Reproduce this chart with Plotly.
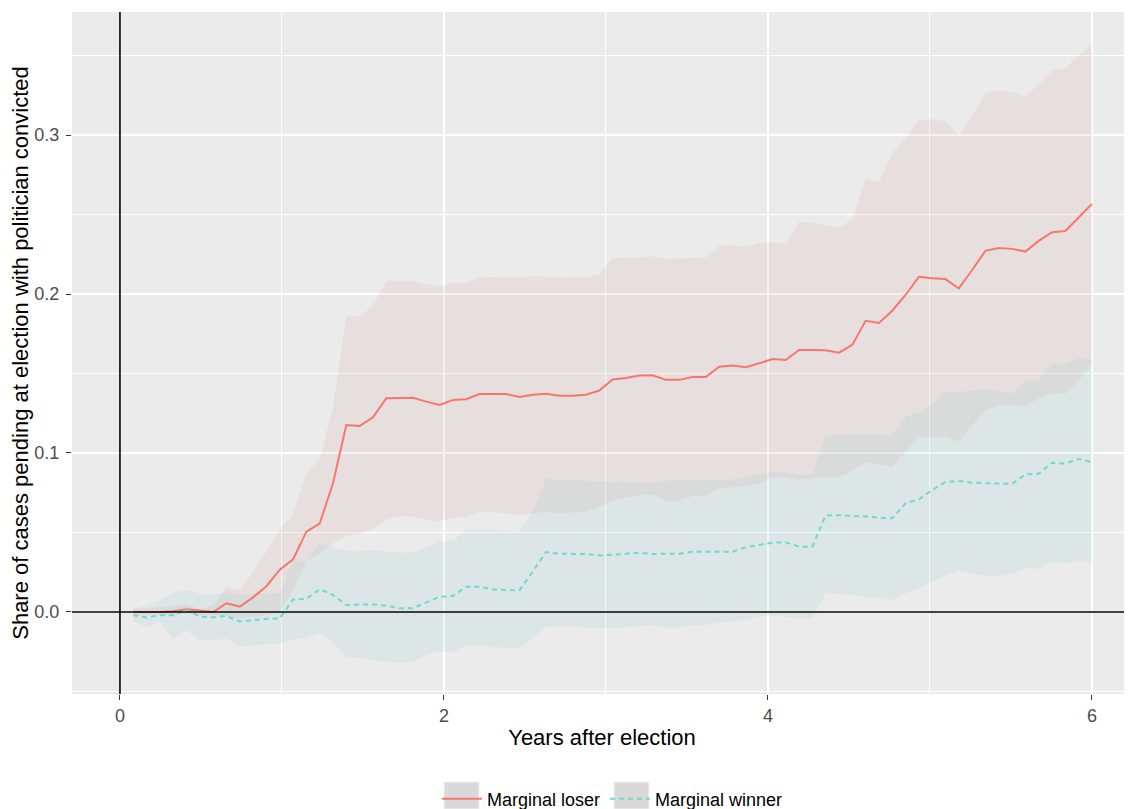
import plotly.graph_objects as go

# days after election (30-day steps), converted to years
days = [30, 60, 90, 120, 150, 180, 210, 240, 270, 300, 330, 360,
        390, 420, 450, 480, 510, 540, 570, 600, 630, 660, 690, 720,
        750, 780, 810, 840, 870, 900, 930, 960, 990, 1020, 1050, 1080,
        1110, 1140, 1170, 1200, 1230, 1260, 1290, 1320, 1350, 1380, 1410, 1440,
        1470, 1500, 1530, 1560, 1590, 1620, 1650, 1680, 1710, 1740, 1770, 1800,
        1830, 1860, 1890, 1920, 1950, 1980, 2010, 2040, 2070, 2100, 2130, 2160, 2190]
years = [d / 365 for d in days]

loser = [0.0, 0.0, 0.0, 0.0005, 0.0017, 0.001, 0.0, 0.0055, 0.0034, 0.0092, 0.0162, 0.0266,
         0.0331, 0.0505, 0.0556, 0.081, 0.1176, 0.117, 0.1224, 0.1344, 0.1346, 0.1348, 0.1323, 0.1302,
         0.1333, 0.1338, 0.1371, 0.1371, 0.1371, 0.1352, 0.1367, 0.1373, 0.136, 0.136, 0.1367, 0.1393,
         0.1463, 0.1472, 0.1487, 0.1489, 0.146, 0.146, 0.1478, 0.1478, 0.1543, 0.155, 0.154, 0.1564,
         0.1591, 0.1585, 0.1648, 0.1648, 0.1646, 0.1631, 0.168, 0.1832, 0.1818, 0.1895, 0.1994, 0.2109,
         0.2099, 0.2094, 0.2035, 0.2151, 0.2272, 0.229, 0.2284, 0.2267, 0.2334, 0.2389, 0.2396, 0.2481, 0.2567]
loser_lo = [-0.002, -0.002, -0.002, -0.002, -0.001, -0.002, -0.002, -0.003, -0.004, -0.003, -0.002, 0.0,
            0.014, 0.032, 0.037, 0.043, 0.048, 0.0495, 0.052, 0.058, 0.06, 0.06, 0.058, 0.057,
            0.059, 0.06, 0.063, 0.063, 0.062, 0.061, 0.062, 0.063, 0.062, 0.0625, 0.063, 0.066,
            0.07, 0.072, 0.0736, 0.0737, 0.07, 0.07, 0.073, 0.073, 0.078, 0.0783, 0.079, 0.081,
            0.0847, 0.0847, 0.0834, 0.084, 0.0851, 0.0847, 0.0889, 0.0939, 0.093, 0.091, 0.1008, 0.1103,
            0.11, 0.1104, 0.1072, 0.1172, 0.127, 0.1298, 0.1305, 0.1291, 0.1346, 0.1374, 0.1374, 0.1453, 0.1568]
loser_hi = [0.002, 0.002, 0.003, 0.004, 0.005, 0.0015, 0.004, 0.016, 0.0138, 0.025, 0.038, 0.052,
            0.061, 0.087, 0.096, 0.129, 0.186, 0.1858, 0.1927, 0.2084, 0.2084, 0.2084, 0.2061, 0.2046,
            0.2071, 0.2071, 0.2105, 0.2107, 0.2109, 0.2105, 0.211, 0.211, 0.2102, 0.2105, 0.2105, 0.2124,
            0.2226, 0.2226, 0.2233, 0.2237, 0.2222, 0.2224, 0.2226, 0.2229, 0.2302, 0.2308, 0.2298, 0.2322,
            0.2327, 0.2317, 0.2455, 0.2449, 0.2434, 0.2417, 0.2472, 0.2723, 0.2706, 0.2885, 0.2979, 0.3095,
            0.31, 0.3085, 0.2997, 0.3123, 0.3265, 0.3283, 0.3267, 0.3242, 0.3318, 0.3404, 0.342, 0.35, 0.357]

winner = [-0.002, -0.0035, -0.002, -0.002, 0.0015, -0.003, -0.0034, -0.0025, -0.006, -0.005, -0.0044, -0.004,
          0.0078, 0.0082, 0.0144, 0.0107, 0.0044, 0.0047, 0.0047, 0.004, 0.0023, 0.0023, 0.0061, 0.0096,
          0.01, 0.0159, 0.0159, 0.0143, 0.0138, 0.0136, 0.0254, 0.0377, 0.0366, 0.0366, 0.0365, 0.0355,
          0.036, 0.0365, 0.0372, 0.0365, 0.0365, 0.0367, 0.0379, 0.0379, 0.0379, 0.0379, 0.0407, 0.0421,
          0.0436, 0.0438, 0.0411, 0.0411, 0.0608, 0.0608, 0.0606, 0.06, 0.0593, 0.0589, 0.0683, 0.0709,
          0.0767, 0.0818, 0.0824, 0.0813, 0.081, 0.081, 0.0806, 0.0865, 0.087, 0.0939, 0.0934, 0.0962, 0.0943]
winner_lo = [-0.006, -0.0096, -0.006, -0.0172, -0.0113, -0.018, -0.018, -0.0166, -0.0222, -0.021, -0.0203, -0.02,
             -0.0172, -0.016, -0.013, -0.0195, -0.0285, -0.029, -0.0298, -0.0312, -0.0323, -0.0312, -0.027, -0.025,
             -0.025, -0.0214, -0.0208, -0.0222, -0.0222, -0.0229, -0.0166, -0.0095, -0.009, -0.0093, -0.0096, -0.0103,
             -0.0103, -0.0095, -0.0088, -0.0082, -0.0096, -0.0096, -0.0082, -0.0082, -0.0067, -0.006, -0.005, -0.003,
             -0.002, -0.003, -0.004, -0.004, 0.0117, 0.0117, 0.0107, 0.0092, 0.0092, 0.0075, 0.0117, 0.0149,
             0.019, 0.0228, 0.0264, 0.0237, 0.023, 0.023, 0.0235, 0.0276, 0.0272, 0.0321, 0.0303, 0.0326, 0.0303]
winner_hi = [0.002, 0.004, 0.0075, 0.0122, 0.0138, 0.0113, 0.0113, 0.0122, 0.011, 0.0113, 0.012, 0.012,
             0.0327, 0.0317, 0.0432, 0.041, 0.0385, 0.038, 0.0388, 0.038, 0.0373, 0.0373, 0.041, 0.0442,
             0.0446, 0.052, 0.052, 0.0516, 0.051, 0.0505, 0.063, 0.084, 0.083, 0.0828, 0.0826, 0.082,
             0.082, 0.0818, 0.0815, 0.0813, 0.0826, 0.0826, 0.083, 0.083, 0.083, 0.0834, 0.0852, 0.0868,
             0.0883, 0.0876, 0.0862, 0.0866, 0.1113, 0.1113, 0.1117, 0.112, 0.1113, 0.1113, 0.1229, 0.1254,
             0.1303, 0.1388, 0.1385, 0.1392, 0.1396, 0.1392, 0.1373, 0.1458, 0.1465, 0.1561, 0.1561, 0.1597, 0.1584]

x_ticks = [0, 2, 4, 6]
y_ticks = [0.0, 0.1, 0.2, 0.3]
y_tick_text = ["0.0", "0.1", "0.2", "0.3"]

RED = "#F8766D"
TEAL = "#6DDACB"
FONT = "Liberation Sans, Arial, sans-serif"

# figure sized to fit inside the window next to the page's 8px body margin
W, H = 1124, 801
ML, MR, MT, MB = 64, 0, 4, 115
PW = W - ML - MR
PH = H - MT - MB
PANEL_BOTTOM = H - MB

fig = go.Figure()

# ribbons
fig.add_trace(go.Scatter(x=years + years[::-1], y=loser_hi + loser_lo[::-1],
                         fill="toself", fillcolor="rgba(202,143,127,0.12)",
                         line=dict(width=0), mode="lines", hoverinfo="skip", showlegend=False))
fig.add_trace(go.Scatter(x=years + years[::-1], y=winner_hi + winner_lo[::-1],
                         fill="toself", fillcolor="rgba(100,195,195,0.11)",
                         line=dict(width=0), mode="lines", hoverinfo="skip", showlegend=False))

# lines
fig.add_trace(go.Scatter(x=years, y=loser, mode="lines", name="Marginal loser",
                         line=dict(color=RED, width=2)))
fig.add_trace(go.Scatter(x=years, y=winner, mode="lines", name="Marginal winner",
                         line=dict(color=TEAL, width=2, dash="5px,4px")))

# reference lines at 0
fig.add_shape(type="line", xref="x", yref="paper", x0=0, x1=0, y0=0, y1=1,
              line=dict(color="black", width=1.6), layer="above")
fig.add_shape(type="line", xref="paper", yref="y", x0=0, x1=1, y0=0, y1=0,
              line=dict(color="black", width=1.6), layer="above")

# legend placement (figure pixels)
LEG_LEFT = 429
ENTRY_STEP = 170
for k in range(2):
    bx = LEG_LEFT + 7 + k * ENTRY_STEP
    fig.add_shape(type="rect", xref="paper", yref="paper",
                  x0=(bx - ML) / PW, x1=(bx + 35 - ML) / PW,
                  y0=(PANEL_BOTTOM - 801) / PH, y1=(PANEL_BOTTOM - 774) / PH,
                  fillcolor="#D9D9D9", line=dict(width=1, color="#F2F2F2"), layer="below")

fig.update_layout(
    width=W, height=H,
    margin=dict(l=ML, r=MR, t=MT, b=MB),
    paper_bgcolor="white",
    plot_bgcolor="#EBEBEB",
    font=dict(family=FONT, color="black"),
    showlegend=True,
    legend=dict(orientation="h", xref="paper", x=(LEG_LEFT - ML) / PW, xanchor="left",
                yref="container", y=(H - 791) / H, yanchor="middle",
                itemwidth=40,
                font=dict(size=18, color="black"), bgcolor="rgba(0,0,0,0)"),
    xaxis=dict(range=[-0.296, 6.247], tickmode="array", tickvals=x_ticks,
               ticktext=[str(v) for v in x_ticks], automargin=False,
               showgrid=True, gridcolor="white", gridwidth=2,
               minor=dict(dtick=1, showgrid=True, gridcolor="white", gridwidth=1),
               zeroline=False, ticks="outside", ticklen=5, tickcolor="#333333", tickwidth=1,
               tickfont=dict(size=18, color="#4D4D4D"),
               title=dict(text="Years after election", font=dict(size=22, color="black"), standoff=5)),
    yaxis=dict(range=[-0.0516, 0.3774], tickmode="array", tickvals=y_ticks, ticktext=y_tick_text,
               automargin=False, ticklabelstandoff=3,
               showgrid=True, gridcolor="white", gridwidth=2,
               minor=dict(dtick=0.05, tick0=0, showgrid=True, gridcolor="white", gridwidth=1),
               zeroline=False, ticks="outside", ticklen=5, tickcolor="#333333", tickwidth=1,
               tickfont=dict(size=18, color="#4D4D4D"),
               title=dict(text="Share of cases pending at election with politician convicted",
                          font=dict(size=22, color="black"), standoff=8)),
)

fig.write_html("out.html")
